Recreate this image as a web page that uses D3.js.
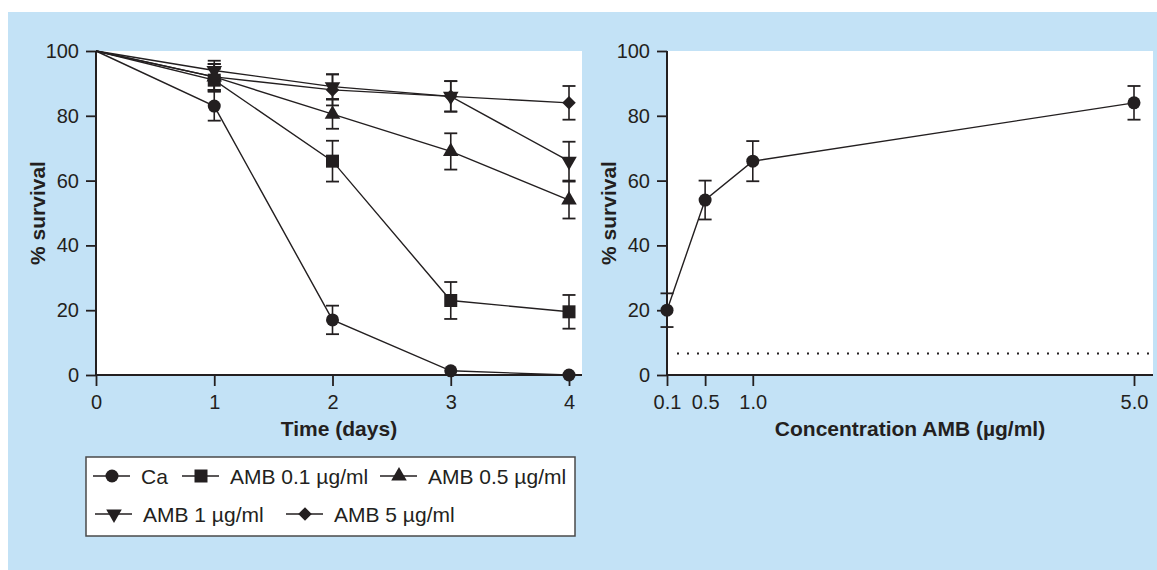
<!DOCTYPE html>
<html>
<head>
<meta charset="utf-8">
<script src="https://d3js.org/d3.v7.min.js"></script>
<style>
  body { margin: 0; background: #fff; }
  svg text { font-family: "Liberation Sans", Arial, sans-serif; fill: #231f20; }
</style>
</head>
<body>
<script>
// left panel: survival over time
var days = [0, 1, 2, 3, 4];
var seriesNames = ["Ca", "AMB 0.1 µg/ml", "AMB 0.5 µg/ml", "AMB 1 µg/ml", "AMB 5 µg/ml"];
var ca        = [100, 83, 17, 1.3, 0];
var caErr     = [0, 4.5, 4.4, 0, 0];
var amb01     = [100, 91, 66, 23, 19.5];
var amb01Err  = [0, 3.5, 6.3, 5.7, 5.2];
var amb05     = [100, 92, 80.5, 69, 54];
var amb05Err  = [0, 4, 4.5, 5.6, 5.7];
var amb1      = [100, 94, 89, 86, 66];
var amb1Err   = [0, 3, 3.8, 4.7, 6];
var amb5      = [100, 92, 88, 86, 84];
var amb5Err   = [0, 4, 4.8, 4.7, 5.2];
var yTicks = [0, 20, 40, 60, 80, 100];

// right panel: survival vs concentration
var conc = [0.1, 0.5, 1.0, 5.0];
var concLabels = ["0.1", "0.5", "1.0", "5.0"];
var doseSurv = [20, 54, 66, 84];
var doseErr = [5.2, 6, 6.2, 5.2];
var dottedLevel = 6.6;

var ink = "#231f20";
var W = 1157, H = 570;

var svg = d3.select("body").append("svg").attr("width", W).attr("height", H);
svg.append("rect").attr("x", 8).attr("y", 12).attr("width", W - 8).attr("height", H - 12).attr("fill", "#c3e2f6");

// marker shapes
var shapes = {
  circle:   { type: d3.symbolCircle, size: 133, rot: 0 },
  square:   { type: d3.symbolSquare, size: 169, rot: 0 },
  triangle: { type: d3.symbolTriangle, size: 105, rot: 0 },
  triDown:  { type: d3.symbolTriangle, size: 105, rot: 180 },
  diamond:  { type: d3.symbolSquare, size: 92, rot: 45 }
};
function marker(g, shape, x, y) {
  var s = shapes[shape];
  g.append("path").attr("d", d3.symbol().type(s.type).size(s.size)())
    .attr("transform", "translate(" + x + "," + y + ") rotate(" + s.rot + ")")
    .attr("fill", ink);
}

var y = d3.scaleLinear().domain([0, 100]).range([375, 51]);

function frame(left, right, xScale, ticks, tickFmt) {
  var g = svg.append("g");
  g.append("rect").attr("x", left).attr("y", 51).attr("width", right - left).attr("height", 324).attr("fill", "#fff");

  var ya = g.append("g").attr("transform", "translate(" + left + ",0)")
    .call(d3.axisLeft(y).tickValues(yTicks).tickSize(10).tickPadding(7).tickSizeOuter(0));
  var xa = g.append("g").attr("transform", "translate(0,375)")
    .call(d3.axisBottom(xScale).tickValues(ticks).tickFormat(tickFmt).tickSize(11).tickPadding(9).tickSizeOuter(0));
  [ya, xa].forEach(function (a) {
    a.select(".domain").remove();
    a.selectAll("line").attr("stroke", ink).attr("stroke-width", 1.8);
    a.selectAll("text").attr("font-size", 20).attr("fill", ink);
  });
  g.append("line").attr("x1", left).attr("x2", left).attr("y1", 51).attr("y2", 376)
    .attr("stroke", ink).attr("stroke-width", 2);
  g.append("line").attr("x1", left - 1).attr("x2", right).attr("y1", 375).attr("y2", 375)
    .attr("stroke", ink).attr("stroke-width", 2);

  g.append("text").attr("transform", "translate(" + (left - 51) + ",213) rotate(-90)")
    .attr("text-anchor", "middle").attr("font-size", 21).attr("font-weight", "bold").text("% survival");
  return g;
}

function errBars(g, xs, vals, errs, xScale) {
  xs.forEach(function (xv, i) {
    if (!errs[i]) return;
    var cx = xScale(xv), t = y(vals[i] + errs[i]), b = y(vals[i] - errs[i]);
    g.append("line").attr("x1", cx).attr("x2", cx).attr("y1", t).attr("y2", b).attr("stroke", ink).attr("stroke-width", 1.6);
    [t, b].forEach(function (yy) {
      g.append("line").attr("x1", cx - 6.5).attr("x2", cx + 6.5).attr("y1", yy).attr("y2", yy).attr("stroke", ink).attr("stroke-width", 1.8);
    });
  });
}

// ---- left panel
var x1 = d3.scaleLinear().domain([0, 4]).range([96, 569]);
var g1 = frame(96, 582, x1, days, d3.format("d"));
g1.append("text").attr("x", 339).attr("y", 436).attr("text-anchor", "middle")
  .attr("font-size", 21).attr("font-weight", "bold").text("Time (days)");

var series = [
  { v: ca, e: caErr, shape: "circle" },
  { v: amb01, e: amb01Err, shape: "square" },
  { v: amb05, e: amb05Err, shape: "triangle" },
  { v: amb1, e: amb1Err, shape: "triDown" },
  { v: amb5, e: amb5Err, shape: "diamond" }
];
var line1 = d3.line().x(function (d, i) { return x1(days[i]); }).y(function (d) { return y(d); });
series.forEach(function (s) {
  g1.append("path").attr("d", line1(s.v)).attr("fill", "none").attr("stroke", ink).attr("stroke-width", 1.4);
});
series.forEach(function (s) { errBars(g1, days, s.v, s.e, x1); });
series.forEach(function (s) {
  s.v.forEach(function (v, i) { if (i > 0) marker(g1, s.shape, x1(days[i]), y(v)); });
});

// ---- right panel
var x2 = d3.scaleLinear().domain([0.1, 5.0]).range([667, 1134]);
var g2 = frame(667, 1153, x2, conc, function (d, i) { return concLabels[i]; });
g2.append("text").attr("x", 910).attr("y", 436).attr("text-anchor", "middle")
  .attr("font-size", 21).attr("font-weight", "bold").text("Concentration AMB (µg/ml)");

g2.append("line").attr("x1", 677).attr("x2", 1153).attr("y1", y(dottedLevel)).attr("y2", y(dottedLevel))
  .attr("stroke", ink).attr("stroke-width", 2).attr("stroke-dasharray", "2,8");
var line2 = d3.line().x(function (d, i) { return x2(conc[i]); }).y(function (d) { return y(d); });
g2.append("path").attr("d", line2(doseSurv)).attr("fill", "none").attr("stroke", ink).attr("stroke-width", 1.4);
errBars(g2, conc, doseSurv, doseErr, x2);
doseSurv.forEach(function (v, i) { marker(g2, "circle", x2(conc[i]), y(v)); });

// ---- legend
var lg = svg.append("g");
lg.append("rect").attr("x", 86).attr("y", 457).attr("width", 489).attr("height", 79)
  .attr("fill", "#fff").attr("stroke", "#4a4a4a").attr("stroke-width", 1.5);
var legendPos = [[93, 476], [182, 476], [380, 476], [95, 514], [286, 514]];
series.forEach(function (s, i) {
  var lx = legendPos[i][0], ly = legendPos[i][1];
  lg.append("line").attr("x1", lx).attr("x2", lx + 37).attr("y1", ly).attr("y2", ly).attr("stroke", ink).attr("stroke-width", 1.5);
  marker(lg, s.shape, lx + 19, ly);
  lg.append("text").attr("x", lx + 48).attr("y", ly + 7.5).attr("font-size", 21).text(seriesNames[i]);
});
</script>
</body>
</html>
